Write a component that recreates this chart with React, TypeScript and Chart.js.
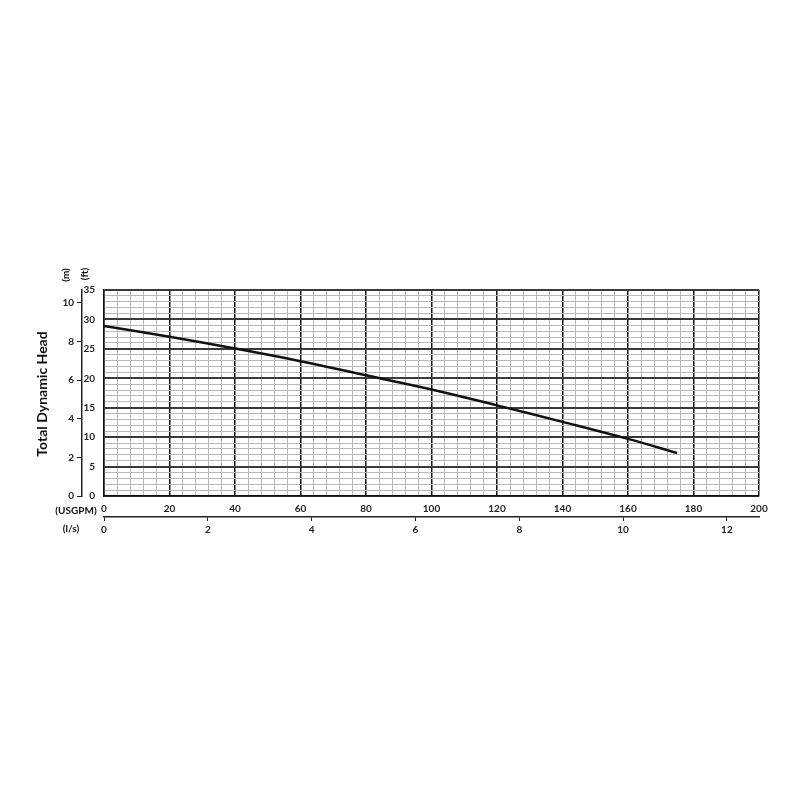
import React, { useEffect, useRef } from "react";
import { Chart, registerables } from "chart.js";

Chart.register(...registerables);

// ---- data ----
const flowUSGPM = [0, 20, 40, 60, 80, 100, 120, 140, 160, 175];
const headFt = [28.9, 27.05, 25.05, 22.9, 20.5, 18.1, 15.4, 12.6, 9.7, 7.3];

const usgpmLabels = [0, 20, 40, 60, 80, 100, 120, 140, 160, 180, 200];
const ftLabels = [0, 5, 10, 15, 20, 25, 30, 35];
const mLabels = [0, 2, 4, 6, 8, 10];
const lsLabels = [0, 2, 4, 6, 8, 10, 12];

const FT_PER_M = 3.28084;
const USGPM_PER_LS = 15.8503;
const FT_MAX = 35;
const USGPM_MAX = 200;

const FONT = "Lato, 'Open Sans', sans-serif";

const extraText = {
  id: "extraText",
  afterDraw(chart: any) {
    const { ctx, chartArea } = chart;
    const left = chartArea.left;
    const top = chartArea.top;
    const bottom = chartArea.bottom;
    ctx.save();
    ctx.fillStyle = "#111";
    ctx.textAlign = "center";
    ctx.textBaseline = "middle";

    // main title
    ctx.save();
    ctx.font = `bold 14px ${FONT}`;
    ctx.translate(left - 62, (top + bottom) / 2 + 1);
    ctx.rotate(-Math.PI / 2);
    ctx.fillText("Total Dynamic Head", 0, 0);
    ctx.restore();

    // unit labels (rotated)
    ctx.font = `bold 10px ${FONT}`;
    ctx.save();
    ctx.translate(left - 38, top - 15);
    ctx.rotate(-Math.PI / 2);
    ctx.fillText("(m)", 0, 0);
    ctx.restore();
    ctx.save();
    ctx.translate(left - 19, top - 16);
    ctx.rotate(-Math.PI / 2);
    ctx.fillText("(ft)", 0, 0);
    ctx.restore();

    // bottom unit labels
    ctx.font = `bold 10px ${FONT}`;
    ctx.fillText("(USGPM)", left - 28, bottom + 15);
    ctx.fillText("(l/s)", left - 33, bottom + 33);
    ctx.restore();
  },
};

export default function App() {
  const ref = useRef<HTMLCanvasElement | null>(null);

  useEffect(() => {
    if (!ref.current) return;
    const chart = new Chart(ref.current, {
      type: "line",
      data: {
        datasets: [
          {
            data: flowUSGPM.map((x, i) => ({ x, y: headFt[i] })),
            borderColor: "#111",
            borderWidth: 2.5,
            pointRadius: 0,
            tension: 0.4,
            fill: false,
            xAxisID: "x",
            yAxisID: "y",
          },
        ],
      },
      plugins: [extraText],
      options: {
        animation: false,
        responsive: false,
        layout: { padding: { left: 0, top: 290, right: 41, bottom: 253 } },
        plugins: { legend: { display: false }, tooltip: { enabled: false } },
        scales: {
          x: {
            type: "linear",
            position: "bottom",
            weight: 0,
            min: 0,
            max: USGPM_MAX,
            ticks: {
              stepSize: 4,
              autoSkip: false,
              maxRotation: 0,
              padding: 7,
              color: "#222",
              font: { family: FONT, size: 10, weight: "bold" },
              callback: (v: any) => (usgpmLabels.includes(Number(v)) ? String(v) : ""),
            },
            grid: {
              drawTicks: false,
              color: (c: any) => (c.tick && c.tick.value % 20 === 0 ? "#111" : "#b8b8b8"),
              lineWidth: (c: any) => (c.tick && c.tick.value % 20 === 0 ? 1.5 : 1),
            },
            border: { display: true, color: "#111", width: 1.5 },
            afterFit: (s: any) => {
              s.height = 21;
            },
          },
          x2: {
            type: "linear",
            position: "bottom",
            weight: 1,
            min: 0,
            max: USGPM_MAX / USGPM_PER_LS,
            afterBuildTicks: (s: any) => {
              s.ticks = lsLabels.map((v) => ({ value: v }));
            },
            ticks: {
              autoSkip: false,
              maxRotation: 0,
              padding: 3,
              color: "#222",
              font: { family: FONT, size: 10, weight: "bold" },
            },
            grid: {
              drawOnChartArea: false,
              drawTicks: true,
              tickLength: 4,
              color: "#222",
              lineWidth: 1,
            },
            border: { display: true, color: "#222", width: 1.5 },
            afterFit: (s: any) => {
              s.height = 30;
            },
          },
          y: {
            type: "linear",
            position: "left",
            weight: 0,
            min: 0,
            max: FT_MAX,
            ticks: {
              stepSize: 1,
              autoSkip: false,
              padding: 9,
              color: "#222",
              font: { family: FONT, size: 10, weight: "bold" },
              callback: (v: any) => (ftLabels.includes(Number(v)) ? String(v) : ""),
            },
            grid: {
              drawTicks: false,
              color: (c: any) => (c.tick && c.tick.value % 5 === 0 ? "#3a3a3a" : "#b8b8b8"),
              lineWidth: (c: any) => (c.tick && c.tick.value % 5 === 0 ? 2 : 1),
            },
            border: { display: true, color: "#111", width: 1.5 },
            afterFit: (s: any) => {
              s.width = 22;
            },
          },
          y2: {
            type: "linear",
            position: "left",
            weight: 1,
            min: 0,
            max: FT_MAX / FT_PER_M,
            afterBuildTicks: (s: any) => {
              s.ticks = mLabels.map((v) => ({ value: v }));
            },
            ticks: {
              autoSkip: false,
              padding: 3,
              color: "#222",
              font: { family: FONT, size: 10, weight: "bold" },
            },
            grid: {
              drawOnChartArea: false,
              drawTicks: true,
              tickLength: 5,
              color: "#222",
              lineWidth: 1,
            },
            border: { display: true, color: "#222", width: 1.5 },
            afterFit: (s: any) => {
              s.width = 82;
            },
          },
        },
      } as any,
    });
    return () => chart.destroy();
  }, []);

  return (
    <div style={{ position: "absolute", left: 0, top: 0, width: 800, height: 800, background: "#fff" }}>
      <canvas ref={ref} width={800} height={800} style={{ width: 800, height: 800, display: "block" }} />
    </div>
  );
}
